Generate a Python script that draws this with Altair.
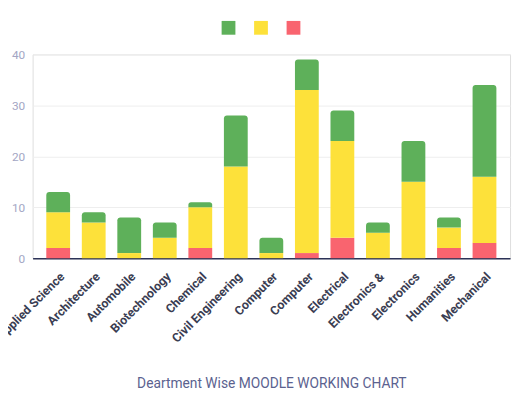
import altair as alt
import pandas as pd

departments = ["Applied Science", "Architecture", "Automobile", "Biotechnology",
               "Chemical", "Civil Engineering", "Computer ", "Computer",
               "Electrical", "Electronics &", "Electronics", "Humanities", "Mechanical"]
red = [2, 0, 0, 0, 2, 0, 0, 1, 4, 0, 0, 2, 3]
yellow = [7, 7, 1, 4, 8, 18, 1, 32, 19, 5, 15, 4, 13]
green = [4, 2, 7, 3, 1, 10, 3, 6, 6, 2, 8, 2, 18]
series = ["green", "yellow", "red"]
colors = ["#5eb05a", "#fde13a", "#f9646f"]
stack_order = {"red": 0, "yellow": 1, "green": 2}

rows = []
for i, d in enumerate(departments):
    for s, vals in (("red", red), ("yellow", yellow), ("green", green)):
        rows.append({"dept": d, "series": s, "value": vals[i], "order": stack_order[s]})
df = pd.DataFrame(rows)

FONT = "Roboto"

base = alt.Chart(df).transform_stack(
    stack="value", groupby=["dept"], as_=["y0", "y1"], sort=[alt.SortField("order")]
)

x_enc = alt.X("dept:N", sort=departments,
              scale=alt.Scale(paddingInner=0.33, paddingOuter=0.385),
              axis=alt.Axis(title="Deartment Wise MOODLE WORKING CHART",
                            labelAngle=-45, labelAlign="right", labelBaseline="top",
                            labelFont=FONT, labelFontWeight="bold",
                            labelFontSize=12.5, labelColor="#3a3d52", labelPadding=12,
                            ticks=False, domainColor="#2c3357", domainWidth=1.5,
                            titleFont=FONT, titleFontWeight="normal", titleFontSize=14,
                            titleColor="#5b628f", titleY=131, titleBaseline="alphabetic"))
y_enc = alt.Y("y0:Q", scale=alt.Scale(domain=[0, 40]),
              axis=alt.Axis(title=None, values=[0, 10, 20, 30, 40], domain=False,
                            ticks=False, labelFont=FONT, labelFontSize=12,
                            labelColor="#a3a6c4", labelPadding=8,
                            gridColor="#eeeeee", gridWidth=1))
color_enc = alt.Color("series:N", scale=alt.Scale(domain=series, range=colors),
                      legend=alt.Legend(orient="none", legendX=192, legendY=-34,
                                        direction="horizontal", title=None,
                                        symbolType="square", symbolSize=196,
                                        symbolStrokeWidth=0, symbolOpacity=1,
                                        labelExpr="''", labelOffset=0, labelLimit=1,
                                        columnPadding=19))

lower = base.transform_filter(alt.datum.series != "green").mark_bar().encode(
    x=x_enc, y=y_enc, y2="y1:Q", color=color_enc)
upper = base.transform_filter(alt.datum.series == "green").mark_bar(
    cornerRadiusTopLeft=3, cornerRadiusTopRight=3).encode(
    x=x_enc, y=y_enc, y2="y1:Q", color=color_enc)

chart = alt.layer(lower, upper).properties(
    width=485, height=207,
    autosize=alt.AutoSizeParams(type="none"),
    padding={"left": 25, "top": 44, "right": 4, "bottom": 145},
).configure_view(stroke=None).configure(background="white")

chart.save("out.html", embed_options={"renderer": "svg", "actions": False})
